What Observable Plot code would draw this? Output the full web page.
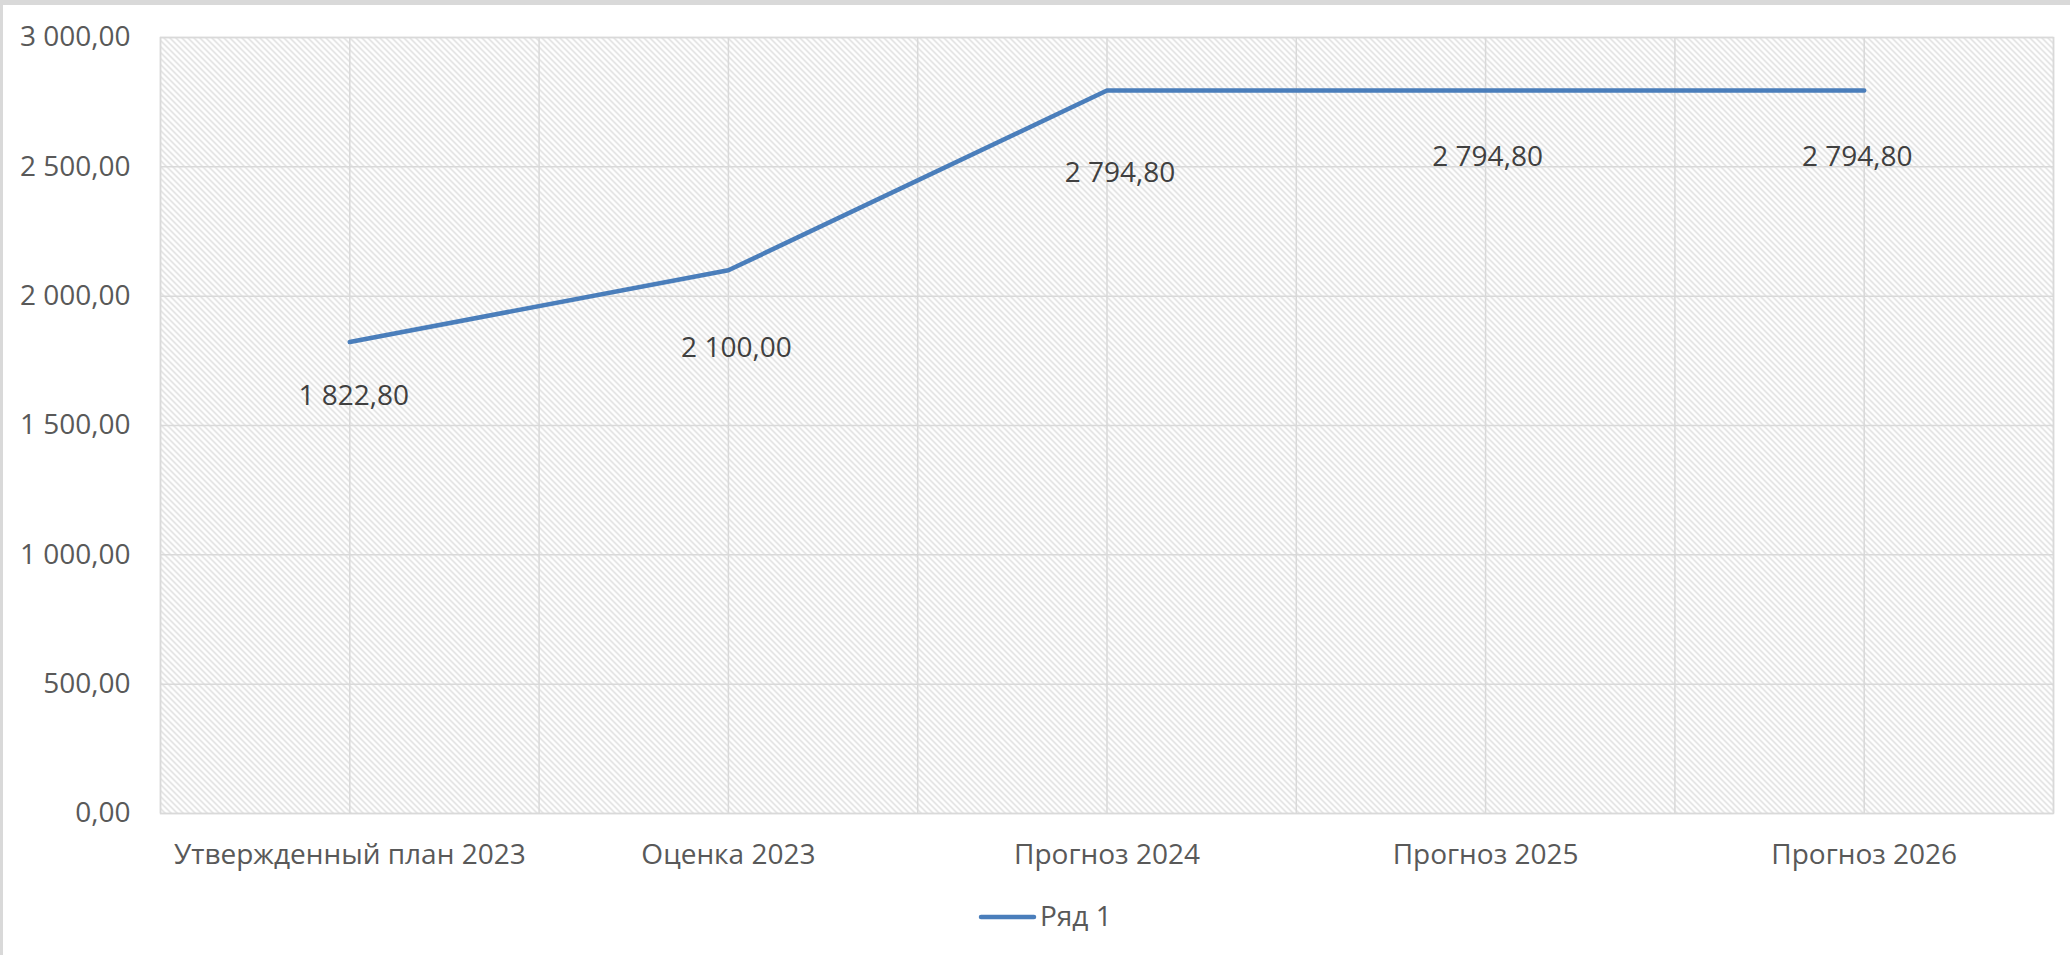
<!DOCTYPE html>
<html><head><meta charset="utf-8">
<script src="https://cdn.jsdelivr.net/npm/d3@7"></script>
<script src="https://cdn.jsdelivr.net/npm/@observablehq/plot@0.6"></script>
<style>
html,body{margin:0;padding:0;background:#fff;overflow:hidden;}
#wrap{position:relative;width:2070px;height:955px;font-family:"Open Sans",sans-serif;}
.bt{position:absolute;left:0;top:0;width:2070px;height:5px;background:#d9d9d9;}
.bl{position:absolute;left:0;top:0;width:3px;height:955px;background:#d9d9d9;}
#legend{position:absolute;left:0;top:880px;width:2070px;height:75px;}
</style></head><body>
<div id="wrap"><div id="chart"></div><div id="legend"></div><div class="bt"></div><div class="bl"></div></div>
<script>
const categories = ["Утвержденный план 2023", "Оценка 2023", "Прогноз 2024", "Прогноз 2025", "Прогноз 2026"];
const values = [1822.8, 2100.0, 2794.8, 2794.8, 2794.8];
const yTicks = [0, 500, 1000, 1500, 2000, 2500, 3000];
const seriesName = "Ряд 1";

const data = categories.map((c, i) => ({i, category: c, value: values[i]}));
const ru = d3.formatLocale({decimal: ",", thousands: "\u00a0", grouping: [3], currency: ["", ""]});
const fmt = ru.format(",.2f");
const TEXT = "#595959", LABEL = "#404040", GRID = "#d9d9d9", LINE = "#4a7ebb";

const label = (i, dx, dy) => Plot.text([data[i]], {
  x: "i", y: "value", text: d => fmt(d.value), dx, dy, fill: LABEL, fontSize: 28
});

const svg = Plot.plot({
  width: 2070, height: 880,
  marginLeft: 160, marginRight: 17, marginTop: 37, marginBottom: 67,
  style: {fontFamily: "'Open Sans', sans-serif", fontSize: "28px", color: TEXT, background: "transparent"},
  x: {type: "linear", domain: [-0.5, categories.length - 0.5], ticks: d3.range(categories.length),
      tickFormat: i => categories[i], tickSize: 0, tickPadding: 31, label: null},
  y: {domain: [0, 3000], ticks: yTicks, tickFormat: fmt, tickSize: 0, tickPadding: 30, label: null},
  marks: [
    Plot.frame({fill: "url(#hatch)", stroke: "none"}),
    Plot.ruleY(yTicks, {stroke: GRID, strokeWidth: 1.5}),
    Plot.ruleX(d3.range(-0.5, categories.length, 0.5), {stroke: GRID, strokeWidth: 1.5}),
    Plot.frame({stroke: GRID, strokeWidth: 1.5}),
    Plot.lineY(data, {x: "i", y: "value", stroke: LINE, strokeWidth: 4.5, strokeLinejoin: "round", strokeLinecap: "round"}),
    label(0, 4, 54),
    label(1, 8, 78),
    label(2, 13, 82),
    label(3, 2, 66),
    label(4, -7, 66)
  ]
});

// hatch pattern for plot area
const ns = "http://www.w3.org/2000/svg";
const defs = document.createElementNS(ns, "defs");
defs.innerHTML = `<pattern id="hatch" patternUnits="userSpaceOnUse" width="6" height="6">
  <rect width="6" height="6" fill="#ffffff"/>
  <path d="M-1.5,-1.5 L7.5,7.5 M-1.5,4.5 L1.5,7.5 M4.5,-1.5 L7.5,1.5" stroke="#d9d9d9" stroke-width="1.3"/>
</pattern>`;
svg.insertBefore(defs, svg.firstChild);
document.getElementById("chart").appendChild(svg);

// legend
const lg = d3.select("#legend").append("svg").attr("width", 2070).attr("height", 75);
lg.append("line").attr("x1", 981).attr("x2", 1034).attr("y1", 37).attr("y2", 37)
  .attr("stroke", LINE).attr("stroke-width", 4.5).attr("stroke-linecap", "round");
lg.append("text").attr("x", 1040).attr("y", 46).attr("fill", TEXT)
  .style("font-family", "'Open Sans', sans-serif").style("font-size", "28px").text(seriesName);
</script>
</body></html>
